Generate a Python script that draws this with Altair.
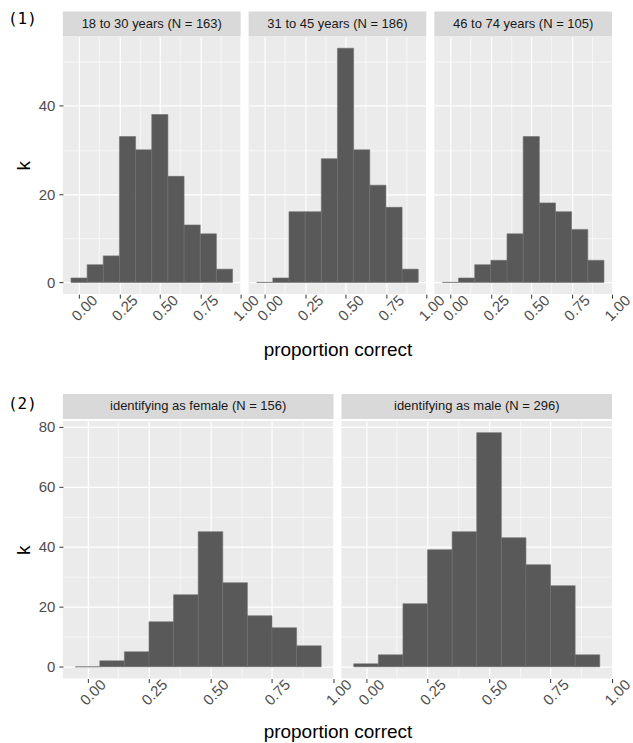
import altair as alt
import pandas as pd

# ---------------- data ----------------
bin_centers = [0.0, 0.1, 0.2, 0.3, 0.4, 0.5, 0.6, 0.7, 0.8, 0.9]

age_labels = ["18 to 30 years (N = 163)", "31 to 45 years (N = 186)", "46 to 74 years (N = 105)"]
counts_18_30 = [1, 4, 6, 33, 30, 38, 24, 13, 11, 3]
counts_31_45 = [0, 1, 16, 16, 28, 53, 30, 22, 17, 3]
counts_46_74 = [0, 1, 4, 5, 11, 33, 18, 16, 12, 5]

gender_labels = ["identifying as female (N = 156)", "identifying as male (N = 296)"]
counts_female = [0, 2, 5, 15, 24, 45, 28, 17, 13, 7]
counts_male = [1, 4, 21, 39, 45, 78, 43, 34, 27, 4]

x_grid_values = [0, 0.125, 0.25, 0.375, 0.5, 0.625, 0.75, 0.875, 1.0]
y_grid_row1 = [0, 10, 20, 30, 40, 50]
y_grid_row2 = [0, 10, 20, 30, 40, 50, 60, 70, 80]

x_title = "proportion correct"
y_title = "k"
row_tags = ["(1)", "(2)"]

FONT = "Liberation Sans"
X_MINOR = "round(datum.value * 8) % 2 == 1"
Y_MINOR = "datum.value % 20 != 0"


def make_hist(counts, w, h, ydom, yvals, first, xtitle_y=55):
    df = pd.DataFrame({"center": bin_centers, "k": counts})

    xaxis_kwargs = dict(
        values=x_grid_values,
        labelExpr=f"({X_MINOR}) ? '' : format(datum.value, '.2f')",
        gridWidth={"condition": {"test": X_MINOR, "value": 0.6}, "value": 1.2},
        tickOpacity={"condition": {"test": X_MINOR, "value": 0}, "value": 1},
        labelAngle=-45,
        labelAlign="center",
        labelBaseline="top",
        labelPadding=4.5,
    )
    if first:
        xaxis_kwargs.update(title=x_title, titleX=275, titleY=xtitle_y,
                            titleBaseline="middle", titleAlign="center")
    else:
        xaxis_kwargs.update(title=None)

    yaxis_kwargs = dict(
        values=yvals,
        gridWidth={"condition": {"test": Y_MINOR, "value": 0.6}, "value": 1.2},
    )
    if first:
        yaxis_kwargs.update(
            labelExpr=f"({Y_MINOR}) ? '' : datum.value",
            tickOpacity={"condition": {"test": Y_MINOR, "value": 0}, "value": 1},
            title=y_title, titleX=-39, titleY=h / 2, titleAngle=-90,
            titleBaseline="middle", titleAlign="center", labelPadding=4,
        )
    else:
        yaxis_kwargs.update(labels=False, ticks=False, title=None)

    return (
        alt.Chart(df)
        .transform_calculate(lo="datum.center - 0.05", hi="datum.center + 0.05")
        .mark_rect(fill="#595959", stroke="#6e6e6e", strokeWidth=0.6)
        .encode(
            x=alt.X("lo:Q", scale=alt.Scale(domain=[-0.1, 1.0], nice=False, zero=False),
                    axis=alt.Axis(**xaxis_kwargs)),
            x2="hi:Q",
            y=alt.Y("k:Q", scale=alt.Scale(domain=ydom, nice=False, zero=False),
                    axis=alt.Axis(**yaxis_kwargs)),
            y2=alt.datum(0),
        )
        .properties(width=w, height=h)
    )


def make_strip(label, w, tag=None, tag_y=7):
    sdf = pd.DataFrame({"label": [label]})
    strip_text = (
        alt.Chart(sdf)
        .mark_text(font=FONT, fontSize=13, color="#1A1A1A", baseline="middle", align="center")
        .encode(text="label:N", x=alt.value(w / 2), y=alt.value(12.5))
    )
    layers = [strip_text]
    if tag is not None:
        layers.append(
            alt.Chart(sdf)
            .mark_text(text=tag, font="DejaVu Sans Mono", fontSize=16, color="black",
                       align="left", baseline="middle")
            .encode(x=alt.value(-55), y=alt.value(tag_y))
        )
    return alt.layer(*layers, view=alt.ViewBackground(fill="#D9D9D9", stroke=None)).properties(
        width=w, height=25
    )


def make_row(counts_list, labels, w, tag, tag_y, xtitle_y, yvals):
    ymax = max(max(c) for c in counts_list)
    ydom = [-0.05 * ymax, 1.05 * ymax]
    strips = alt.hconcat(
        *[make_strip(lab, w, tag if i == 0 else None, tag_y) for i, lab in enumerate(labels)],
        spacing=8, bounds="flush",
    )
    hists = alt.hconcat(
        *[make_hist(c, w, 258, ydom, yvals, i == 0, xtitle_y) for i, c in enumerate(counts_list)],
        spacing=8, bounds="flush",
    )
    return alt.vconcat(strips, hists, spacing=0)


row1 = make_row([counts_18_30, counts_31_45, counts_46_74], age_labels, 178,
                row_tags[0], 7, 55, y_grid_row1)
row2 = make_row([counts_female, counts_male], gender_labels, 271,
                row_tags[1], 10, 53, y_grid_row2)

chart = (
    alt.vconcat(row1, row2, spacing=35, padding={"left": 8, "top": 10, "right": 0, "bottom": 0})
    .configure(background="white")
    .configure_view(fill="#EBEBEB", stroke=None)
    .configure_axis(
        labelFont=FONT, labelFontSize=15, labelColor="#4D4D4D",
        titleFont=FONT, titleFontSize=19, titleFontWeight="normal", titleColor="black",
        gridColor="white", domain=False, tickColor="#333333", tickSize=4, tickWidth=1,
        labelFlush=False, labelOverlap=False,
    )
)

chart.save("out.html", embed_options={"renderer": "svg", "actions": False})
